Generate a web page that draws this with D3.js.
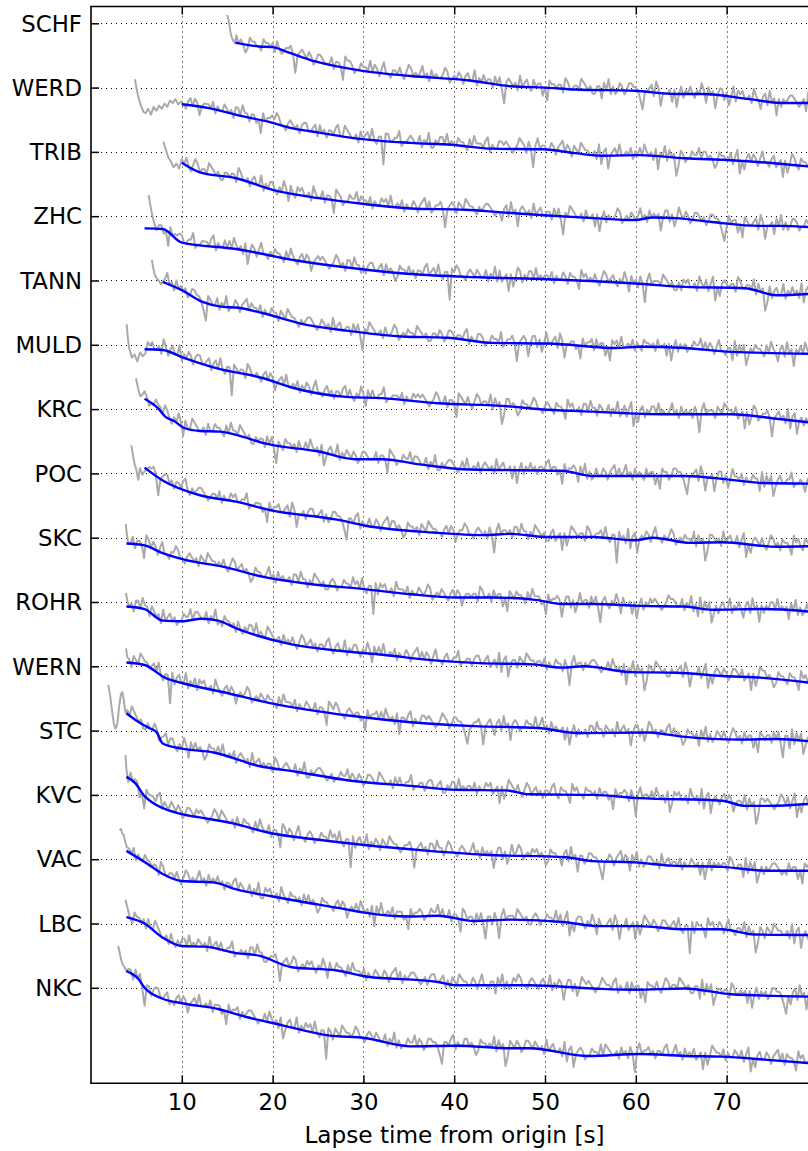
<!DOCTYPE html>
<html>
<head>
<meta charset="utf-8">
<script src="https://cdn.jsdelivr.net/npm/d3@7/dist/d3.min.js"></script>
<style>
  html, body { margin: 0; padding: 0; background: #fff; }
  svg { display: block; }
</style>
</head>
<body>
<div id="chart"></div>
<script>
// Station names, top to bottom; each trace is drawn around its own offset.
const stations = ["SCHF", "WERD", "TRIB", "ZHC", "TANN", "MULD", "KRC", "POC",
                  "SKC", "ROHR", "WERN", "STC", "KVC", "VAC", "LBC", "NKC"];

const xTicks = [10, 20, 30, 40, 50, 60, 70];

// Smoothed envelope (blue): knot times [s] and values relative to the station offset
const smoothTimes = [
  [15.9, 18.5, 20.0, 21.5, 24.6, 29.9, 35.2, 41.7, 46.3, 50.0, 53.3, 59.9, 64.4, 67.4, 72.5, 76.0, 80.0],
  [10.0, 13.0, 16.5, 19.5, 22.1, 25.1, 29.1, 35.2, 39.7, 44.2, 49.8, 53.3, 56.3, 60.4, 65.4, 70.5, 75.5, 80.0],
  [10.0, 12.0, 16.0, 20.0, 25.1, 30.1, 35.2, 41.2, 45.2, 50.3, 55.3, 59.9, 61.9, 64.4, 68.4, 73.5, 76.0, 80.0],
  [5.9, 7.9, 10.0, 16.0, 22.6, 30.1, 35.2, 42.7, 50.3, 60.4, 65.4, 72.0, 75.5, 80.0],
  [7.9, 10.0, 12.2, 14.5, 16.0, 19.0, 23.1, 28.1, 34.2, 39.2, 44.2, 50.3, 57.9, 60.4, 65.4, 70.5, 80.0],
  [5.9, 7.9, 10.0, 14.0, 19.0, 22.0, 28.1, 32.1, 38.2, 45.2, 50.3, 55.3, 62.9, 70.5, 75.5, 80.0],
  [5.9, 7.4, 8.2, 9.2, 10.2, 12.0, 14.2, 16.0, 19.0, 25.1, 29.1, 32.1, 36.2, 41.7, 51.8, 55.3, 65.4, 70.5, 74.0, 80.0],
  [5.9, 7.9, 12.0, 16.0, 20.0, 27.1, 30.1, 37.7, 43.2, 46.3, 50.3, 55.3, 59.9, 61.9, 66.0, 69.5, 75.5, 80.0],
  [3.9, 5.9, 7.9, 10.5, 14.5, 19.0, 24.1, 30.1, 35.2, 40.2, 44.2, 49.2, 51.8, 55.3, 60.4, 65.4, 68.4, 74.0, 80.0],
  [3.9, 5.9, 7.9, 10.0, 12.2, 14.0, 16.0, 22.1, 28.1, 32.1, 37.2, 42.7, 48.7, 51.8, 54.3, 59.4, 64.4, 69.5, 74.0, 80.0],
  [3.9, 5.9, 8.2, 10.0, 14.5, 20.0, 28.6, 35.2, 42.2, 49.2, 53.8, 61.4, 64.9, 71.5, 75.5, 80.0],
  [3.9, 4.9, 6.4, 7.2, 7.9, 10.0, 13.5, 18.5, 22.6, 28.6, 35.2, 40.2, 45.7, 48.3, 55.3, 60.4, 69.5, 72.0, 74.5, 80.0],
  [3.9, 4.9, 5.9, 10.0, 12.0, 15.5, 20.0, 24.6, 30.1, 37.2, 43.2, 52.3, 55.3, 59.9, 63.9, 69.5, 74.5, 80.0],
  [3.9, 6.2, 7.9, 10.0, 13.5, 16.0, 20.0, 28.1, 30.1, 35.2, 38.2, 42.2, 46.3, 52.3, 55.8, 60.4, 65.4, 69.5, 73.0, 80.0],
  [3.9, 5.9, 7.9, 10.0, 12.5, 16.0, 18.5, 22.1, 27.1, 30.1, 38.2, 40.2, 48.3, 55.3, 59.9, 65.4, 70.5, 80.0],
  [3.9, 5.2, 5.9, 7.9, 10.0, 14.0, 17.0, 21.0, 26.1, 30.1, 35.2, 40.2, 46.3, 48.3, 54.8, 60.4, 65.4, 69.5, 74.5, 80.0]
];
const smoothValues = [
  [-0.30, -0.36, -0.37, -0.44, -0.59, -0.74, -0.82, -0.89, -0.98, -1.00, -1.03, -1.05, -1.10, -1.10, -1.18, -1.24, -1.24],
  [-0.26, -0.32, -0.44, -0.53, -0.63, -0.70, -0.79, -0.86, -0.89, -0.95, -0.96, -1.02, -1.06, -1.05, -1.10, -1.13, -1.18, -1.24],
  [-0.17, -0.32, -0.41, -0.59, -0.72, -0.81, -0.88, -0.90, -0.94, -0.99, -1.03, -1.06, -1.02, -1.03, -1.09, -1.15, -1.15, -1.18],
  [-0.19, -0.20, -0.41, -0.51, -0.69, -0.83, -0.90, -0.95, -0.98, -1.05, -1.10, -1.12, -1.23, -1.20],
  [-0.02, -0.15, -0.33, -0.41, -0.42, -0.51, -0.67, -0.78, -0.87, -0.89, -0.97, -0.98, -1.05, -1.03, -1.05, -1.11, -1.14],
  [-0.07, -0.08, -0.19, -0.37, -0.52, -0.66, -0.81, -0.83, -0.91, -0.95, -1.01, -1.04, -1.08, -1.08, -1.15, -1.22],
  [0.16, 0.01, -0.12, -0.19, -0.29, -0.34, -0.35, -0.40, -0.53, -0.66, -0.78, -0.78, -0.86, -0.94, -0.96, -1.04, -1.04, -1.10, -1.15, -1.16],
  [0.09, -0.11, -0.34, -0.44, -0.58, -0.72, -0.81, -0.92, -0.96, -0.94, -0.99, -0.99, -1.04, -1.00, -1.08, -1.07, -1.14, -1.13],
  [-0.09, -0.12, -0.24, -0.35, -0.45, -0.61, -0.72, -0.80, -0.88, -0.93, -0.93, -0.97, -1.03, -1.03, -1.06, -1.07, -1.12, -1.11, -1.16],
  [-0.07, -0.11, -0.29, -0.30, -0.26, -0.29, -0.41, -0.66, -0.77, -0.82, -0.90, -0.95, -0.97, -1.02, -1.00, -1.09, -1.10, -1.15, -1.18, -1.27],
  [0.06, 0.02, -0.18, -0.26, -0.40, -0.58, -0.77, -0.87, -0.93, -0.96, -1.04, -1.03, -1.09, -1.14, -1.13, -1.18],
  [0.27, 0.165, 0.04, -0.02, -0.20, -0.28, -0.34, -0.55, -0.64, -0.78, -0.86, -0.92, -0.93, -0.99, -1.00, -1.05, -1.09, -1.17, -1.17, -1.13],
  [0.28, 0.18, -0.02, -0.30, -0.35, -0.44, -0.60, -0.69, -0.78, -0.87, -0.93, -0.97, -1.03, -1.05, -1.10, -1.12, -1.18, -1.18],
  [0.13, -0.07, -0.23, -0.34, -0.36, -0.47, -0.58, -0.78, -0.83, -0.89, -0.88, -0.96, -0.94, -0.98, -1.04, -1.04, -1.09, -1.09, -1.17, -1.18],
  [0.10, 0.00, -0.22, -0.35, -0.36, -0.46, -0.50, -0.68, -0.73, -0.82, -0.91, -0.96, -0.96, -1.01, -1.03, -1.01, -1.10, -1.14],
  [0.26, 0.14, 0.00, -0.17, -0.24, -0.33, -0.45, -0.58, -0.74, -0.78, -0.91, -0.90, -0.94, -0.94, -1.06, -1.03, -1.06, -1.07, -1.12, -1.18]
];

// Raw envelope (grey) onset: first arrivals, as times [s] and values relative to the offset
const onsetTimes = [
  [15.0, 15.2, 15.35, 15.5, 15.7, 15.85],
  [4.84, 5.0, 5.2, 5.5, 5.8, 6.0, 6.3, 6.6, 6.9, 7.2, 7.5, 7.8, 8.1, 8.4, 8.7, 9.0, 9.3, 9.6, 9.9],
  [7.97, 8.2, 8.5, 8.8, 9.1, 9.4, 9.7],
  [6.35, 6.5, 6.7, 6.95, 7.2],
  [6.7, 6.85, 7.0, 7.2, 7.45, 7.7],
  [3.93, 4.05, 4.2, 4.5, 4.8, 5.1, 5.4, 5.7],
  [4.95, 5.1, 5.25, 5.45, 5.65],
  [4.44, 4.6, 4.75, 5.0, 5.2, 5.4, 5.65],
  [3.83, 3.95],
  [3.85, 4.0],
  [3.85, 4.0],
  [1.9, 2.1, 2.3, 2.5, 2.7, 2.9, 3.1, 3.3, 3.45, 3.6, 3.8],
  [3.8, 3.9],
  [3.15, 3.3, 3.45, 3.6, 3.75],
  [3.8, 3.95, 4.1],
  [3.0, 3.15, 3.3, 3.5, 3.7]
];
const onsetValues = [
  [0.13, 0.02, -0.13, -0.22, -0.28, -0.31],
  [0.13, 0.0, -0.14, -0.28, -0.38, -0.40, -0.33, -0.42, -0.30, -0.36, -0.28, -0.33, -0.25, -0.30, -0.20, -0.24, -0.18, -0.26, -0.22],
  [0.16, 0.05, -0.08, -0.15, -0.24, -0.18, -0.26],
  [0.33, 0.2, 0.04, -0.1, -0.22],
  [0.32, 0.2, 0.1, 0.04, 0.0, -0.06],
  [0.32, 0.12, -0.05, -0.2, -0.15, -0.26, -0.12, -0.18],
  [0.48, 0.38, 0.28, 0.2, 0.22],
  [0.44, 0.3, 0.18, 0.05, -0.1, 0.08, -0.02],
  [0.21, 0.05],
  [0.14, 0.02],
  [0.28, 0.14],
  [0.71, 0.55, 0.33, 0.12, 0.03, 0.1, 0.38, 0.57, 0.6, 0.48, 0.28],
  [0.62, 0.4],
  [0.45, 0.47, 0.40, 0.38, 0.28],
  [0.37, 0.28, 0.2],
  [0.65, 0.55, 0.45, 0.36, 0.32]
];

// Raw envelope after onset: deviation from the smoothed curve every 0.25 s,
// one digit per sample, looked up in noiseLevels
const noiseStart = [16.0, 10.2, 10.0, 7.5, 7.9, 6.0, 5.9, 5.9, 4.1, 4.2, 4.2, 4.0, 4.1, 3.95, 4.3, 3.9];
const noiseStep = 0.25;
const noiseLevels = [-0.46, -0.37, -0.28, -0.20, -0.13, -0.06, 0.0, 0.06, 0.115, 0.17];
const noiseCodes = [
  "8676458776 6587767586 5677862678 7687568876 6685776398 8756687769 6875796657 7686579867 6796758676 6798567687 5786695768 6775868527 8767596786 5867746387 7677598667 7698767557 7486957568 7568877642 6678597366 6747368576 8657697486 7368857469 5878667597 6478596737 5767887656 7495868357",
  "6578687467 7768576687 6758869775 7756386778 7986657876 7578866785 8675776896 6987667586 7869657718 8667795667 8766857695 5768869676 6877658697 7768957668 8787656798 7586279677 6687578968 7587698776 6759478367 8696676857 6869767583 7695867248 7566877968 8676458776 6857936478 6875796657 8567374698 6587767586 5877649786",
  "7686579867 7698767557 7677598667 5786695768 8657697486 5878667597 6685776398 7566877968 7768576687 8696676857 6687578968 5677862678 7587698776 5767887656 6478596737 8767596786 6775868527 6987667586 6747368576 6798567687 6796758676 7368857469 7687568876 7568877642 5867746387 6678597366 7486957568 8756687769 7495868357",
  "7756386778 8667795667 7768957668 6869767583 6875796657 6877658697 6578687467 8787656798 6758869775 7578866785 8676458776 8675776896 7869657718 7986657876 8766857695 8567374698 5768869676 7768576687 5877649786 7686579867 8657697486 7586279677 7698767557 5878667597 6857936478 7677598667 7695867248 5786695768 6759478367 6685776398",
  "6796758676 7568877642 8766857695 6687578968 7768576687 7587698776 5767887656 8767596786 6775868527 6987667586 6798567687 7698767557 7687568876 7768957668 8756687769 5677862678 7368857469 6678597366 7756386778 5867746387 8696676857 6587767586 6747368576 7566877968 6875796657 7495868357 6877658697 6478596737 6869767583 7486957568",
  "5878667597 5786695768 7578866785 7869657718 7677598667 6578687467 8696676857 6875796657 8675776896 8657697486 8667795667 7768576687 8787656798 6685776398 7686579867 7695867248 8676458776 7986657876 5877649786 6758869775 8766857695 6857936478 5768869676 6796758676 7586279677 7587698776 8567374698 5677862678 6759478367 5767887656",
  "8756687769 8657697486 6987667586 6877658697 7698767557 6775868527 6587767586 6869767583 5786695768 7687568876 6685776398 7566877968 8766857695 5767887656 8696676857 8767596786 6747368576 8675776896 7756386778 7486957568 6687578968 6796758676 5867746387 7568877642 6678597366 7368857469 7768576687 7495868357 8667795667 6478596737",
  "5677862678 8675776896 5767887656 7768576687 8667795667 7756386778 6678597366 7578866785 7568877642 7768957668 6687578968 8676458776 7587698776 6578687467 7986657876 7586279677 6758869775 7698767557 8567374698 7677598667 7869657718 6759478367 6875796657 6798567687 7695867248 8767596786 6857936478 7686579867 5877649786 5878667597",
  "6685776398 6875796657 7986657876 7587698776 7686579867 8676458776 6796758676 6758869775 7698767557 8756687769 7869657718 5878667597 7768576687 6798567687 6578687467 7677598667 5867746387 6877658697 7756386778 7368857469 6775868527 8657697486 6747368576 8787656798 8766857695 7495868357 5786695768 6478596737 5768869676 7486957568 6587767586",
  "6758869775 8767596786 7566877968 8766857695 6587767586 5768869676 6987667586 7686579867 8675776896 5786695768 8657697486 8696676857 6687578968 6875796657 8667795667 7578866785 6759478367 7587698776 7768576687 7586279677 5767887656 6869767583 7695867248 7698767557 6678597366 6857936478 7687568876 8567374698 8676458776 5877649786 7768957668",
  "7587698776 7869657718 5786695768 5878667597 6578687467 6798567687 6877658697 7768576687 6685776398 7986657876 7756386778 6869767583 7768957668 8787656798 7568877642 5677862678 6478596737 8756687769 6796758676 6747368576 6758869775 8767596786 7368857469 8675776896 8676458776 7486957568 7686579867 5867746387 6775868527 7495868357 6875796657",
  "7698767557 6687578968 8657697486 8676458776 8696676857 8767596786 7677598667 8766857695 5767887656 7566877968 7687568876 6987667586 8667795667 7578866785 5768869676 7768576687 8567374698 7686579867 8675776896 5877649786 6587767586 7756386778 7586279677 6869767583 5878667597 6759478367 6578687467 7695867248 8787656798 6857936478 6877658697",
  "5867746387 7768957668 7687568876 8787656798 6987667586 6877658697 6685776398 6875796657 8756687769 7869657718 5786695768 7587698776 5677862678 6758869775 7986657876 6796758676 7368857469 6798567687 8676458776 6478596737 7568877642 6687578968 7486957568 8767596786 7768576687 6747368576 7677598667 7495868357 5767887656 5867746387 8667795667",
  "7768576687 7677598667 7686579867 6796758676 8675776896 8766857695 5878667597 6587767586 8676458776 6578687467 6869767583 8696676857 7756386778 7566877968 6685776398 6775868527 7586279677 7698767557 8756687769 6857936478 8657697486 6678597366 8567374698 7687568876 7869657718 5877649786 6875796657 7695867248 7587698776 6759478367 5786695768",
  "6587767586 6987667586 5768869676 8767596786 8667795667 6758869775 5677862678 6798567687 8657697486 6877658697 7768576687 6687578968 5767887656 7578866785 7587698776 6875796657 7486957568 7986657876 5786695768 7368857469 8787656798 7768957668 5867746387 7686579867 7698767557 7495868357 7677598667 6747368576 7568877642 6478596737 5878667597",
  "6775868527 7578866785 6578687467 8696676857 7756386778 5767887656 6869767583 5786695768 7869657718 7587698776 7986657876 8766857695 7566877968 7568877642 7768957668 8676458776 7695867248 7687568876 8767596786 6759478367 8756687769 6987667586 7586279677 8675776896 6796758676 8567374698 7768576687 6857936478 6687578968 5877649786 6758869775"
];

const W = 808, H = 1151;
const plot = { left: 91, top: 6.5, bottom: 1083.3 };
const tEnd = 80.2;

const svg = d3.select("#chart").append("svg")
  .attr("width", W).attr("height", H)
  .attr("viewBox", `0 0 ${W} ${H}`);

const x = d3.scaleLinear().domain([0, 100]).range([plot.left, plot.left + 908]);
const y = d3.scaleLinear().domain([-16.485, 0.261]).range([plot.bottom, plot.top]);
const offsets = stations.map((_, i) => -i);

svg.append("defs").append("clipPath").attr("id", "plot-clip")
  .append("rect")
  .attr("x", plot.left).attr("y", plot.top)
  .attr("width", W - plot.left + 10).attr("height", plot.bottom - plot.top);

// dotted grid
const grid = svg.append("g").attr("stroke", "#000").attr("stroke-width", 1)
  .attr("stroke-dasharray", "1,4").attr("fill", "none");
grid.selectAll("line.gx").data(xTicks).join("line").attr("class", "gx")
  .attr("x1", d => Math.round(x(d)) + 0.5).attr("x2", d => Math.round(x(d)) + 0.5)
  .attr("y1", plot.top).attr("y2", plot.bottom);
grid.selectAll("line.gy").data(offsets).join("line").attr("class", "gy")
  .attr("x1", plot.left).attr("x2", W + 10)
  .attr("y1", d => Math.round(y(d)) + 0.5).attr("y2", d => Math.round(y(d)) + 0.5);

const traces = svg.append("g").attr("clip-path", "url(#plot-clip)");

const decode = s => s.replace(/\s+/g, "").split("").map(c => noiseLevels[+c]);

stations.forEach((name, i) => {
  const base = d3.scaleLinear().domain(smoothTimes[i]).range(smoothValues[i]).clamp(true);
  const raw = onsetTimes[i].map((t, j) => [t, onsetValues[i][j]]);
  decode(noiseCodes[i]).forEach((r, k) => {
    const t = noiseStart[i] + k * noiseStep;
    if (t <= tEnd) raw.push([t, base(t) + r]);
  });
  const smooth = smoothTimes[i].map((t, j) => [t, smoothValues[i][j]]);

  const rawLine = d3.line().x(d => x(d[0])).y(d => y(offsets[i] + d[1]));
  const smoothLine = d3.line().curve(d3.curveMonotoneX)
    .x(d => x(d[0])).y(d => y(offsets[i] + d[1]));

  traces.append("path").datum(raw)
    .attr("d", rawLine).attr("fill", "none")
    .attr("stroke", "#aaaaaa").attr("stroke-width", 2)
    .attr("stroke-linejoin", "round");
  traces.append("path").datum(smooth)
    .attr("d", smoothLine).attr("fill", "none")
    .attr("stroke", "#0000ff").attr("stroke-width", 2.4)
    .attr("stroke-linejoin", "round");
});

// axes: inward ticks on left, top and bottom
const font = "DejaVu Sans, sans-serif";
const tickLen = 8;

const yAxis = d3.axisLeft(y).tickValues(offsets)
  .tickFormat((d, i) => stations[i]).tickSizeInner(-tickLen).tickSizeOuter(0).tickPadding(9);
const gy = svg.append("g").attr("transform", `translate(${plot.left},0)`).call(yAxis);
gy.select(".domain").remove();
gy.selectAll(".tick line").attr("stroke", "#000").attr("stroke-width", 1.5);
gy.selectAll(".tick text").attr("font-family", font).attr("font-size", 22.8)
  .attr("fill", "#000").attr("dy", "0.34em");

const xAxis = d3.axisBottom(x).tickValues(xTicks).tickFormat(d3.format("d"))
  .tickSizeInner(-tickLen).tickSizeOuter(0).tickPadding(0);
const gx = svg.append("g").attr("transform", `translate(0,${plot.bottom})`).call(xAxis);
gx.select(".domain").remove();
gx.selectAll(".tick line").attr("stroke", "#000").attr("stroke-width", 1.5);
gx.selectAll(".tick text").attr("font-family", font).attr("font-size", 22.8)
  .attr("fill", "#000").attr("y", 27).attr("dy", 0);

const xTop = d3.axisTop(x).tickValues(xTicks).tickFormat("")
  .tickSizeInner(-tickLen).tickSizeOuter(0);
const gt = svg.append("g").attr("transform", `translate(0,${plot.top})`).call(xTop);
gt.select(".domain").remove();
gt.selectAll(".tick line").attr("stroke", "#000").attr("stroke-width", 1.5);

// spines
const spines = svg.append("g").attr("stroke", "#000").attr("stroke-width", 1.6).attr("fill", "none");
spines.append("line").attr("x1", plot.left).attr("x2", plot.left)
  .attr("y1", plot.top).attr("y2", plot.bottom);
spines.append("line").attr("x1", plot.left - 0.8).attr("x2", W + 10)
  .attr("y1", plot.top).attr("y2", plot.top);
spines.append("line").attr("x1", plot.left - 0.8).attr("x2", W + 10)
  .attr("y1", plot.bottom).attr("y2", plot.bottom);

svg.append("text")
  .attr("x", (plot.left + W) / 2 + 5).attr("y", 1143)
  .attr("text-anchor", "middle")
  .attr("font-family", font).attr("font-size", 23.2).attr("fill", "#000")
  .text("Lapse time from origin [s]");
</script>
</body>
</html>
